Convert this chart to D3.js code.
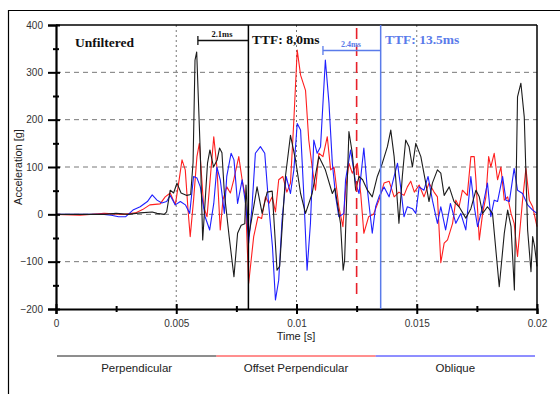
<!DOCTYPE html>
<html><head><meta charset="utf-8">
<script src="https://cdn.jsdelivr.net/npm/d3@7/dist/d3.min.js"></script>
<style>body{margin:0;background:#fff}svg{display:block}</style>
</head><body><svg id="c" width="560" height="394"></svg>
<script>
// times in ms, values in g
const perpT = [0,1,2,2.5,3,3.5,4,4.2,4.5,4.6,4.75,4.89,5.03,5.2,5.44,5.6,5.7,5.78,5.85,6.0,6.1,6.3,6.4,6.55,6.7,6.8,6.9,7.0,7.2,7.4,7.55,7.7,7.85,7.9,8.01,8.36,8.57,8.78,8.99,9.19,9.3,9.54,9.75,9.96,10.17,10.375,10.65,10.93,11.2,11.49,11.6,11.83,11.94,12.0,12.18,12.32,12.46,12.6,12.75,12.95,13.15,13.36,13.57,13.78,13.92,14.06,14.26,14.4,14.54,14.68,14.82,14.96,15.17,15.375,15.51,15.65,15.86,16.0,16.14,16.35,16.55,16.76,17.04,17.25,17.46,17.6,17.74,17.94,18.15,18.43,18.64,18.78,18.92,19.06,19.19,19.33,19.47,19.61,19.75,19.82,19.9,20.0];
const perpV = [0,0,0,2,0,3,5,2,0,5,51,45,66,45,40,42,110,326,343,129,-54,108,136,100,115,140,130,45,-47,-132,-40,-23,-20,62,-47,58,2,47,49,-118,-110,80,167,115,44,2,44,122,94,44,55,-19,-118,-97,175,129,51,80,73,51,37,80,108,143,178,122,-19,80,157,143,100,150,122,66,27,66,94,87,40,58,27,16,-8,12,51,37,2,16,2,-153,-40,9,-26,-160,248,277,206,-33,-121,-47,-68,-110];
const offT = [0,1,2,2.8,3.3,3.6,3.9,4.33,4.54,4.75,4.96,5.1,5.24,5.375,5.49,5.58,5.72,5.86,5.96,6.14,6.28,6.42,6.56,6.69,6.83,6.94,7.1,7.25,7.39,7.6,7.74,7.875,8.01,8.22,8.4,8.55,8.71,8.85,8.99,9.125,9.26,9.43,9.6,9.75,9.89,10.03,10.17,10.375,10.51,10.65,10.79,10.93,11.1,11.28,11.42,11.56,11.76,11.93,12.04,12.18,12.32,12.53,12.67,12.8,13.0,13.2,13.43,13.64,13.85,14.06,14.26,14.47,14.61,14.75,14.9,15.1,15.3,15.51,15.72,15.86,16.0,16.14,16.28,16.49,16.625,16.76,16.9,17.1,17.25,17.39,17.46,17.6,17.74,17.875,17.99,18.08,18.22,18.36,18.5,18.64,18.78,18.92,19.05,19.19,19.4,19.54,19.68,19.82,20.0];
const offV = [0,-2,2,0,3,10,20,22,37,45,20,66,115,94,9,-47,30,122,150,16,-5,80,164,100,-33,30,58,45,73,122,73,37,-146,-47,-5,-9,37,23,37,5,73,80,47,66,199,347,294,262,157,100,51,129,122,164,94,100,16,-26,51,108,87,108,44,-40,-5,0,30,66,70,37,47,40,58,70,47,62,37,66,47,37,-102,-61,-54,-19,30,16,51,40,122,122,73,-54,2,37,122,100,129,73,100,30,37,2,-19,-89,30,97,30,16,-26];
const oblT = [0,1,2,2.3,2.6,2.9,3.2,3.5,3.8,4.0,4.2,4.4,4.6,4.75,4.96,5.17,5.38,5.56,5.72,5.86,6.0,6.2,6.39,6.56,6.69,6.83,7.0,7.1,7.28,7.4,7.55,7.74,7.9,8.01,8.15,8.29,8.5,8.68,8.85,9.0,9.125,9.26,9.4,9.57,9.75,9.89,10.03,10.17,10.3,10.44,10.58,10.72,10.86,11.0,11.2,11.35,11.49,11.63,11.76,11.97,12.04,12.25,12.46,12.6,12.8,12.95,13.15,13.29,13.43,13.64,13.85,14.06,14.2,14.33,14.47,14.61,14.82,14.96,15.1,15.3,15.47,15.65,15.86,16.0,16.2,16.4,16.625,16.83,17.04,17.25,17.39,17.53,17.74,17.94,18.08,18.22,18.36,18.57,18.71,18.85,19.05,19.19,19.4,19.61,19.82,20.0];
const oblV = [0,0,0,-2,-5,-5,9,16,27,41,30,24,27,40,20,27,20,2,80,77,58,-5,-33,23,100,73,2,80,129,115,23,73,16,-61,16,129,143,129,16,-68,-181,-139,-12,80,44,94,192,178,44,-118,-19,157,129,143,326,235,108,37,-5,2,73,136,66,44,140,51,-40,16,37,58,37,80,108,58,-5,16,12,2,58,51,80,30,-19,16,-33,23,-19,2,-33,80,16,-26,16,66,-5,30,27,80,30,27,97,51,44,20,9,2];
const yTicks = [-200,-100,0,100,200,300,400];
const xTicks = [0,0.005,0.01,0.015,0.02];
const seriesNames = ["Perpendicular","Offset Perpendicular","Oblique"];
const seriesColors = ["#1c1c1c","#ff1f1f","#1f1fff"];

const svg = d3.select("#c");
const L=56, R=537, T=25, B=309;
const x = d3.scaleLinear().domain([0,0.02]).range([L,R]);
const y = d3.scaleLinear().domain([-200,400]).range([B,T]);

// outer frame (top and left edges visible)
svg.append("path").attr("d","M8.5,400 V10.5 H560").attr("fill","none").attr("stroke","#000").attr("stroke-width",1.2);

// grid
svg.append("g").selectAll("line").data(yTicks.filter(d=>d>-200&&d<400)).join("line")
  .attr("x1",L).attr("x2",R).attr("y1",d=>y(d)).attr("y2",d=>y(d))
  .attr("stroke","#555").attr("stroke-width",0.8).attr("stroke-dasharray","5,4");
svg.append("g").selectAll("line").data(xTicks.filter(d=>d>0&&d<0.02)).join("line")
  .attr("x1",d=>x(d)).attr("x2",d=>x(d)).attr("y1",T).attr("y2",B)
  .attr("stroke","#666").attr("stroke-width",0.9).attr("stroke-dasharray","2,3");

// series
const line = d3.line().x(d=>x(d[0]/1000)).y(d=>y(d[1]));
const data = [[perpT,perpV],[offT,offV],[oblT,oblV]];
const order = [1,2,0];
order.forEach(i=>{
  const pts = data[i][0].map((t,k)=>[t,data[i][1][k]]);
  svg.append("path").datum(pts).attr("d",line).attr("fill","none")
    .attr("stroke",seriesColors[i]).attr("stroke-width",1.1).attr("stroke-linejoin","round");
});

// plot box top/right
svg.append("line").attr("x1",L).attr("x2",R).attr("y1",T).attr("y2",T).attr("stroke","#000").attr("stroke-width",1.5);
svg.append("line").attr("x1",R).attr("x2",R).attr("y1",T).attr("y2",B).attr("stroke","#000").attr("stroke-width",1.5);

// axes
svg.append("g").attr("transform",`translate(${L},0)`)
  .call(d3.axisLeft(y).tickValues(yTicks).tickSize(8).tickPadding(5).tickFormat(d3.format("d")));
svg.append("g").attr("transform",`translate(${L},0)`)
  .call(d3.axisRight(y).tickValues(yTicks).tickSize(4).tickFormat(""))
  .call(g=>g.select(".domain").remove());
svg.append("g").attr("transform",`translate(${L},0)`)
  .call(d3.axisLeft(y).tickValues(d3.range(-150,400,100)).tickSize(3).tickFormat(""))
  .call(g=>g.select(".domain").remove());
svg.append("g").attr("transform",`translate(${L},0)`)
  .call(d3.axisRight(y).tickValues(d3.range(-150,400,100)).tickSize(3).tickFormat(""))
  .call(g=>g.select(".domain").remove());
svg.append("g").attr("transform",`translate(0,${B})`)
  .call(d3.axisBottom(x).tickValues(xTicks).tickSize(5).tickPadding(6).tickFormat(d=>d===0?"0":String(d)));
svg.append("g").attr("transform",`translate(0,${B})`)
  .call(d3.axisTop(x).tickValues(xTicks).tickSize(5).tickFormat(""))
  .call(g=>g.select(".domain").remove());
svg.append("g").attr("transform",`translate(0,${B})`)
  .call(d3.axisBottom(x).tickValues([0.0025,0.0075,0.0125,0.0175]).tickSize(3).tickFormat(""))
  .call(g=>g.select(".domain").remove());
svg.append("g").attr("transform",`translate(0,${B})`)
  .call(d3.axisTop(x).tickValues([0.0025,0.0075,0.0125,0.0175]).tickSize(3).tickFormat(""))
  .call(g=>g.select(".domain").remove());
svg.selectAll(".domain").attr("stroke","#000").attr("stroke-width",2.2);
svg.selectAll(".tick line").attr("stroke","#000").attr("stroke-width",2);
svg.selectAll(".tick text").attr("font-family","Liberation Sans, Arial, sans-serif").attr("font-size",10).attr("fill","#333");

// axis titles
svg.append("text").attr("transform","translate(22,167) rotate(-90)").attr("text-anchor","middle")
  .attr("font-family","Liberation Sans, Arial, sans-serif").attr("font-size",11).attr("fill","#222").text("Acceleration [g]");
svg.append("text").attr("x",296).attr("y",340).attr("text-anchor","middle")
  .attr("font-family","Liberation Sans, Arial, sans-serif").attr("font-size",11).attr("fill","#222").text("Time [s]");

// annotations
const serif = "Liberation Serif, Times New Roman, serif";
svg.append("text").attr("x",75).attr("y",47).attr("font-family",serif).attr("font-weight","bold").attr("font-size",13.5).attr("fill","#111").text("Unfiltered");
svg.append("line").attr("x1",x(0.008)).attr("x2",x(0.008)).attr("y1",T).attr("y2",B).attr("stroke","#000").attr("stroke-width",1.5);
svg.append("text").attr("x",252).attr("y",44).attr("font-family",serif).attr("font-weight","bold").attr("font-size",13.5).attr("fill","#111").text("TTF: 8,0ms");
svg.append("line").attr("x1",x(0.0059)).attr("x2",x(0.008)).attr("y1",40.5).attr("y2",40.5).attr("stroke","#111").attr("stroke-width",1.3);
svg.append("line").attr("x1",x(0.0059)).attr("x2",x(0.0059)).attr("y1",36).attr("y2",45).attr("stroke","#111").attr("stroke-width",1.3);
svg.append("text").attr("x",222).attr("y",37).attr("text-anchor","middle").attr("font-family",serif).attr("font-weight","bold").attr("font-size",8.5).attr("fill","#111").text("2.1ms");

const bl = "#5a7bea";
svg.append("line").attr("x1",x(0.0125)).attr("x2",x(0.0125)).attr("y1",28).attr("y2",300).attr("stroke","#e8202a").attr("stroke-width",1.6).attr("stroke-dasharray","11,6");
svg.append("line").attr("x1",x(0.0135)).attr("x2",x(0.0135)).attr("y1",T).attr("y2",B).attr("stroke",bl).attr("stroke-width",1.5);
svg.append("line").attr("x1",x(0.0111)).attr("x2",x(0.0135)).attr("y1",50.5).attr("y2",50.5).attr("stroke",bl).attr("stroke-width",1.3);
svg.append("line").attr("x1",x(0.0111)).attr("x2",x(0.0111)).attr("y1",46).attr("y2",55).attr("stroke",bl).attr("stroke-width",1.3);
svg.append("text").attr("x",351).attr("y",47).attr("text-anchor","middle").attr("font-family",serif).attr("font-weight","bold").attr("font-size",8).attr("fill",bl).text("2.4ms");
svg.append("text").attr("x",385).attr("y",44).attr("font-family",serif).attr("font-weight","bold").attr("font-size",13.5).attr("fill",bl).text("TTF: 13.5ms");

// legend
const lx = d3.scaleBand().domain(seriesNames).range([57,535]);
const lg = svg.append("g").selectAll("g").data(seriesNames).join("g");
lg.append("line").attr("x1",d=>lx(d)).attr("x2",d=>lx(d)+lx.bandwidth()).attr("y1",356).attr("y2",356)
  .attr("stroke",(d,i)=>seriesColors[i]).attr("stroke-width",1);
lg.append("text").attr("x",d=>lx(d)+lx.bandwidth()/2).attr("y",372).attr("text-anchor","middle")
  .attr("font-family","Liberation Sans, Arial, sans-serif").attr("font-size",11.5).attr("fill","#222").text(d=>d);
</script></body></html>
